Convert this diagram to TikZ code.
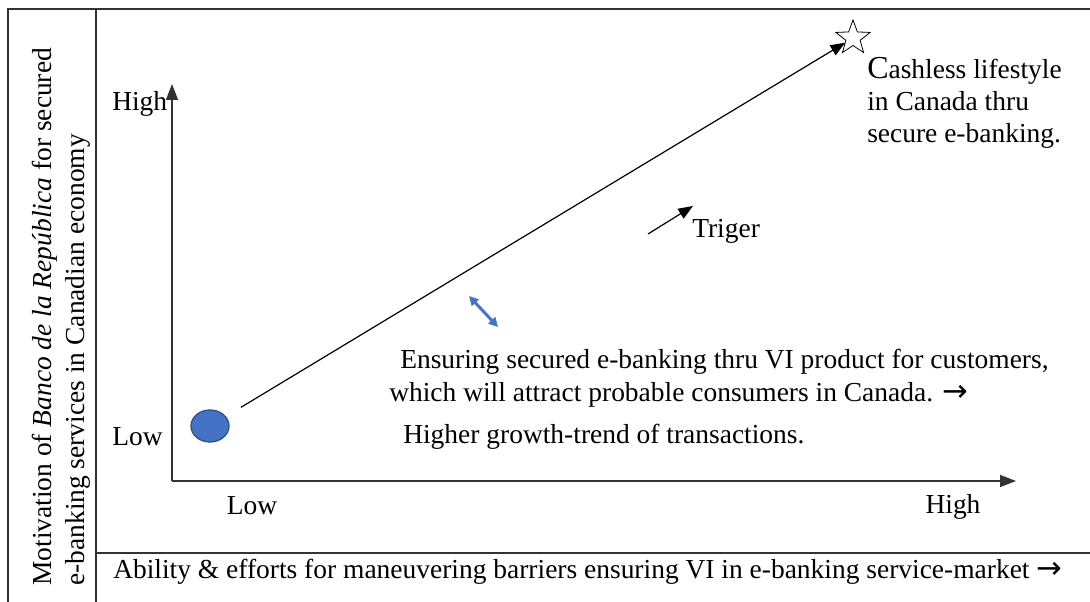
\documentclass[tikz,border=0pt]{standalone}
\usepackage{fontspec}
\setmainfont{Liberation Serif}
\newfontfamily\arrowfont{DejaVu Sans}
\usetikzlibrary{arrows.meta,shapes.geometric}
\definecolor{dotblue}{HTML}{4472C4}
\definecolor{dotedge}{HTML}{2F528F}
\definecolor{frame}{HTML}{333333}
\newcommand{\rarr}{{\arrowfont\fontsize{23}{20}\selectfont →}}
\begin{document}
\begin{tikzpicture}[x=0.75pt,y=-0.75pt,
  txt/.style={font=\fontsize{20.6}{24}\selectfont, inner sep=0pt, text=black},
  frameline/.style={draw=frame, line width=1.1pt},
  axis/.style={draw=frame, line width=1.1pt, -{Triangle[length=12pt,width=9pt]}},
  tip/.style={-{Triangle[length=11pt,width=8.5pt]}, line width=0.9pt}]
\useasboundingbox (0,0) rectangle (1090,602);
% frame
\coordinate (fl1) at (8,9);
\coordinate (fl2) at (8,602);
\coordinate (fm1) at (96,9);
\coordinate (fm2) at (96,602);
\coordinate (ft2) at (1090,9);
\coordinate (fb1) at (96,553);
\coordinate (fb2) at (1090,553);
\draw[frameline] (fl2) -- (fl1) -- (ft2);
\draw[frameline] (fm1) -- (fm2);
\draw[frameline] (fb1) -- (fb2);
% axes
\coordinate (O) at (172,481);
\coordinate (Ytop) at (172,84);
\coordinate (Xend) at (1016,481);
\draw[axis] (O) -- (Ytop);
\draw[axis] (O) -- (Xend);
% axis labels
\node[txt, anchor=west] (yhigh) at (112,104) {High};
\node[txt, anchor=west] (ylow) at (112,437) {Low};
\node[txt] (xlow) at (252,506) {Low};
\node[txt] (xhigh) at (953,507) {High};
% rotated y title
\node[txt, rotate=90, anchor=west, align=left, font=\fontsize{20.6}{24.5}\selectfont] (ytitle) at (61,586)
  {Motivation of \textit{Banco de la República} for secured\\e-banking services in Canadian economy};
% x title
\node[txt, anchor=west] (xtitle) at (113,572)
  {Ability \& efforts for maneuvering barriers ensuring VI in e-banking service-market \rarr};
% dot and star
\node[ellipse, draw=dotedge, fill=dotblue, line width=1pt, minimum width=28.5pt, minimum height=24pt, inner sep=0pt] (dot) at (210,426) {};
\node[star, star points=5, star point ratio=2.4, draw=black, line width=0.6pt, minimum size=27pt, inner sep=0pt, outer sep=0pt] (star) at (853,38) {};
\draw[tip, shorten <=13pt] (dot) -- (star);
% cashless text
\node[txt, anchor=north west, align=left] (cash) at (867,57)
  {{\fontsize{24}{24}\selectfont C}ashless lifestyle\\in Canada thru\\secure e-banking.};
% trigger
\coordinate (trA) at (648,234);
\coordinate (trB) at (693,206);
\draw[tip] (trA) -- (trB);
\node[txt, anchor=west] (trig) at (692,231) {Triger};
% blue double arrow
\coordinate (bA) at (469,296);
\coordinate (bB) at (498,327);
\draw[draw=dotblue, line width=2.2pt, {Triangle[length=7pt,width=7pt]}-{Triangle[length=7pt,width=7pt]}] (bA) -- (bB);
% ensuring text
\node[txt, anchor=west] (ens1) at (400,362) {Ensuring secured e-banking thru VI product for customers,};
\node[txt, anchor=west] (ens2) at (389,395) {which will attract probable consumers in Canada. \rarr};
\node[txt, anchor=west] (ens3) at (403,437) {Higher growth-trend of transactions.};
\end{tikzpicture}
\end{document}
